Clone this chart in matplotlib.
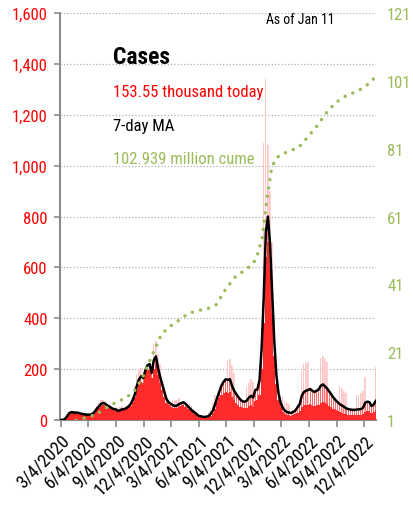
import matplotlib
matplotlib.use("Agg")
import matplotlib.pyplot as plt
import matplotlib.font_manager as fm
import numpy as np
import pandas as pd

# pick a condensed sans if one is installed
fonts = fm.fontManager.ttflist
names = {f.name for f in fonts}
if "Liberation Sans Narrow" in names:
    plt.rcParams['font.family'] = ['Liberation Sans Narrow', 'DejaVu Sans']
elif "Roboto Condensed" in names:
    plt.rcParams['font.family'] = ['Roboto Condensed', 'DejaVu Sans']
else:
    plt.rcParams['font.family'] = ['DejaVu Sans']
    plt.rcParams['font.stretch'] = 'condensed'

# === DATA ===
# weekly values, in thousands of cases; weeks start on Sunday 2020-03-01
first_week = "2020-03-01"

# 7-day moving average
ma = [
    # 2020
    0.1, 0.5, 4, 15, 27, 31, 30, 29, 29, 26, 24, 23, 21, 21, 21, 24, 32, 44, 53, 63, 67, 64,
    57, 53, 47, 43, 42, 36, 38, 42, 43, 47, 53, 62, 78, 100, 135, 160, 172, 165, 195, 215, 220, 185,
    # 2021
    235, 250, 205, 170, 140, 110, 82, 70, 64, 58, 55, 57, 63, 66, 70, 64, 55, 47, 38, 31, 25, 17,
    15, 13, 12, 13, 16, 25, 38, 62, 88, 112, 135, 150, 160, 158, 160, 135, 115, 102, 90, 80, 73, 72,
    76, 88, 95, 88, 118, 120, 155, 280,
    # 2022
    480, 740, 800, 690, 500, 310, 175, 105, 68, 48, 37, 31, 29, 28, 32, 38, 50, 62, 95, 110, 115, 118,
    122, 115, 110, 115, 120, 135, 140, 132, 124, 112, 100, 88, 78, 70, 62, 57, 52, 46, 43, 41, 40, 40,
    41, 42, 43, 48, 68, 72, 70, 55,
    # 2023
    60, 75,
]

# typical (low) daily count in each week
low = [
    0, 0.4, 3, 13, 24, 28, 27, 26, 26, 23, 21, 20, 19, 19, 19, 21, 29, 40, 48, 57, 60, 57,
    51, 48, 42, 39, 38, 32, 34, 38, 39, 42, 48, 56, 70, 90, 120, 145, 150, 145, 175, 195, 195, 165,
    200, 215, 175, 145, 118, 92, 68, 58, 53, 48, 46, 47, 52, 54, 58, 52, 45, 38, 30, 25, 20, 13,
    11, 9, 8, 9, 11, 17, 27, 45, 65, 85, 100, 108, 112, 105, 110, 92, 78, 68, 58, 52, 47, 46,
    48, 57, 60, 52, 75, 78, 100, 200,
    380, 640, 700, 600, 420, 250, 140, 80, 50, 33, 25, 20, 18, 17, 19, 22, 28, 35, 50, 58, 60, 60,
    62, 58, 55, 58, 60, 68, 70, 66, 62, 56, 50, 44, 38, 34, 30, 28, 25, 22, 20, 19, 19, 19,
    20, 20, 21, 23, 33, 35, 34, 26,
    30, 38,
]

# highest daily count in each week
high = [
    0.2, 1, 8, 22, 35, 38, 36, 34, 35, 32, 29, 28, 26, 27, 27, 32, 42, 56, 66, 77, 79, 76,
    68, 64, 57, 52, 52, 46, 50, 54, 56, 62, 70, 82, 105, 135, 180, 200, 205, 230, 260, 320, 300, 270,
    300, 310, 260, 220, 185, 150, 115, 95, 88, 80, 78, 80, 88, 92, 95, 88, 76, 66, 54, 45, 36, 26,
    24, 22, 20, 24, 32, 45, 65, 100, 140, 180, 205, 225, 240, 235, 240, 215, 185, 165, 150, 135, 125, 120,
    130, 145, 160, 150, 185, 195, 260, 560,
    1090, 1340, 1080, 900, 700, 480, 300, 190, 130, 95, 75, 65, 62, 60, 70, 85, 110, 130, 190, 220, 225, 230,
    235, 225, 215, 220, 230, 245, 250, 240, 230, 215, 200, 180, 160, 150, 135, 125, 115, 105, 100, 95, 95, 95,
    100, 100, 105, 115, 170, 185, 190, 150,
    170, 210,
]

# cumulative cases, millions
cume_dates = ["2020-03-01", "2020-04-01", "2020-05-01", "2020-06-01", "2020-07-01", "2020-08-01",
              "2020-09-01", "2020-10-01", "2020-11-01", "2020-12-01", "2021-01-01", "2021-02-01",
              "2021-03-01", "2021-04-01", "2021-05-01", "2021-06-01", "2021-07-01", "2021-08-01",
              "2021-09-01", "2021-10-01", "2021-11-01", "2021-12-01", "2021-12-15", "2022-01-01",
              "2022-01-15", "2022-02-01", "2022-02-15", "2022-03-01", "2022-04-01", "2022-05-01",
              "2022-06-01", "2022-07-01", "2022-08-01", "2022-09-01", "2022-10-01", "2022-11-01",
              "2022-12-01", "2023-01-01", "2023-01-11"]
cume = [0.0, 0.2, 1.1, 1.8, 2.7, 4.6, 6.1, 7.3, 9.2, 13.7, 20.1, 26.3,
        28.6, 30.5, 32.4, 33.3, 33.7, 35.0, 39.5, 43.0, 45.0, 47.0, 49.5, 55.0,
        65.5, 75.5, 78.0, 79.2, 80.3, 81.4, 84.5, 87.7, 91.6, 94.6, 96.4, 97.6,
        98.9, 101.1, 102.939]

tick_dates = ["2020-03-04", "2020-06-04", "2020-09-04", "2020-12-04", "2021-03-04", "2021-06-04",
              "2021-09-04", "2021-12-04", "2022-03-04", "2022-06-04", "2022-09-04", "2022-12-04"]
tick_labels = ["3/4/2020", "6/4/2020", "9/4/2020", "12/4/2020", "3/4/2021", "6/4/2021",
               "9/4/2021", "12/4/2021", "3/4/2022", "6/4/2022", "9/4/2022", "12/4/2022"]

weeks = pd.date_range(first_week, periods=len(ma), freq="7D")

# === PLOT ===
RED = "#ff0000"
GREEN = "#9bbb59"
GRAY = "#8c8c8c"

fig = plt.figure(figsize=(4.14, 5.10), dpi=100)
ax = fig.add_axes([0.145, 0.1745, 0.763, 0.798])

day = pd.Timedelta(days=1)
ax.bar(weeks + 2 * day, high, width=1.6, color="#ffc4c4", zorder=2)
ax.bar(weeks + 5 * day, high, width=1.0, color="#ffd4d4", zorder=2)
ax.bar(weeks + 3 * day, ma, width=3.5, color="#ff6a6a", linewidth=0, zorder=3)
ax.bar(weeks + 3.5 * day, low, width=7.0, color="#ff2a2a", linewidth=0, zorder=4)
ax.plot(weeks + 3.5 * day, ma, color="black", lw=1.8, zorder=5)

ax.set_ylim(0, 1600)
ax.set_yticks(range(0, 1601, 200))
ax.yaxis.set_major_formatter(matplotlib.ticker.FuncFormatter(lambda v, p: f"{int(v):,}"))
ax.set_xlim(pd.Timestamp("2020-03-02"), pd.Timestamp("2023-01-12"))
ax.set_xticks(pd.to_datetime(tick_dates))
ax.set_xticklabels(tick_labels, rotation=45, ha="right", rotation_mode="anchor")

for y in range(200, 1601, 200):
    ax.axhline(y, color="#b0b0b0", lw=0.9, ls=(0, (1, 1.6)), zorder=1)

for s in ["top", "right"]:
    ax.spines[s].set_visible(False)
ax.spines["left"].set_color(GRAY)
ax.spines["bottom"].set_color(GRAY)
ax.spines["left"].set_linewidth(1.5)
ax.spines["bottom"].set_linewidth(1.5)
ax.tick_params(axis="y", colors=GRAY, labelcolor=RED, labelsize=12, length=4, width=1.2, pad=5)
ax.tick_params(axis="x", colors=GRAY, labelcolor="black", labelsize=13, length=5, width=1.2, pad=3)

ax2 = ax.twinx()
ax2.plot(pd.to_datetime(cume_dates), cume, color=GREEN, lw=2.5,
         ls=(0, (0.01, 2.4)), dash_capstyle="round")
ax2.set_ylim(1, 121)
ax2.set_yticks(range(1, 122, 20))
for s in ax2.spines.values():
    s.set_visible(False)
ax2.tick_params(axis="y", length=0, labelcolor=GREEN, labelsize=12, pad=8)

fig.text(113 / 414, 1 - 57 / 510, "Cases", fontsize=17, fontweight="bold", va="center")
fig.text(113 / 414, 1 - 92 / 510, "153.55 thousand today", fontsize=12, color=RED, va="center")
fig.text(113 / 414, 1 - 127 / 510, "7-day MA", fontsize=12, color="black", va="center")
fig.text(113 / 414, 1 - 160 / 510, "102.939 million cume", fontsize=12, color=GREEN, va="center")
fig.text(266 / 414, 1 - 20 / 510, "As of Jan 11", fontsize=10, color="black", va="center")

fig.savefig("out.png", dpi=100)
